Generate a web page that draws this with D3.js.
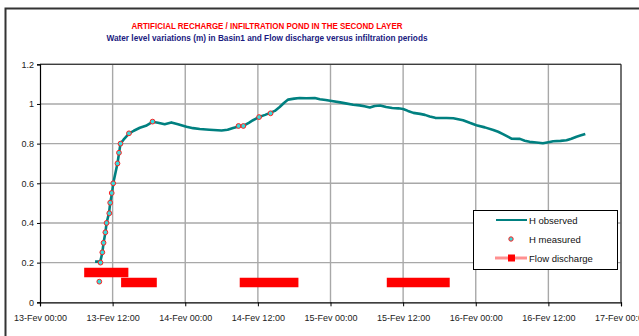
<!DOCTYPE html>
<html>
<head>
<meta charset="utf-8">
<script src="https://cdn.jsdelivr.net/npm/d3@7"></script>
<style>
  body { margin: 0; background: #fff; }
  text { font-family: "Liberation Sans", Arial, sans-serif; }
</style>
</head>
<body>
<div id="chart"></div>
<script>
// hours after 13-Fev 00:00
var obsHours = [9.1,9.8,10.0,10.3,10.5,10.8,11.0,11.4,11.6,11.9,12.1,12.8,13.05,13.3,13.8,14.7,15.5,16.5,17.5,18.6,
  19.5,20.6,21.7,22.8,24.2,25.3,26.4,28.0,30.0,31.0,31.9,33.0,33.6,34.5,35.2,36.3,37.2,38.0,38.8,39.6,
  40.3,41.0,42.0,42.9,44.0,45.4,46.25,47.2,48.2,49.6,50.5,51.75,52.8,53.6,54.5,55.3,56.2,57.2,58.2,59.2,
  60.0,60.8,61.7,62.8,63.6,64.4,65.3,66.1,67.2,68.3,69.9,71.0,72.1,73.5,74.9,75.7,76.5,77.3,77.9,79.3,
  80.1,80.9,82.0,83.1,84.0,84.8,86.0,87.0,87.8,88.65,89.4,90.1];
var obsLevel = [0.205,0.205,0.21,0.25,0.30,0.35,0.40,0.45,0.50,0.55,0.60,0.70,0.75,0.80,0.82,0.85,0.865,0.88,0.89,0.91,
  0.905,0.898,0.907,0.898,0.885,0.878,0.874,0.870,0.866,0.870,0.879,0.888,0.890,0.905,0.918,0.936,0.945,0.955,0.965,0.985,
  1.005,1.022,1.027,1.030,1.029,1.030,1.024,1.020,1.015,1.008,1.003,0.996,0.993,0.988,0.982,0.990,0.992,0.985,0.980,0.978,
  0.975,0.965,0.955,0.950,0.945,0.937,0.930,0.929,0.929,0.928,0.918,0.905,0.893,0.882,0.869,0.860,0.848,0.835,0.825,0.824,
  0.815,0.809,0.806,0.802,0.807,0.812,0.814,0.817,0.825,0.835,0.842,0.849];

var measHours = [9.8,10.0,10.3,10.5,10.8,11.0,11.45,11.6,11.85,12.1,12.8,13.05,13.3,14.7,18.6,32.8,33.6,36.2,38.1];
var measLevel = [0.104,0.20,0.252,0.30,0.353,0.40,0.449,0.502,0.551,0.60,0.70,0.754,0.80,0.852,0.911,0.889,0.889,0.934,0.953];

var flowStart = [7.3, 13.4, 33.0, 57.3];
var flowEnd = [14.6, 19.3, 42.7, 67.7];
var flowValue = [0.15, 0.1, 0.1, 0.1];

var yTicks = [0, 0.2, 0.4, 0.6, 0.8, 1, 1.2];
var xTickHours = [0, 12, 24, 36, 48, 60, 72, 84, 96];
var xTickLabels = ["13-Fev 00:00","13-Fev 12:00","14-Fev 00:00","14-Fev 12:00","15-Fev 00:00",
  "15-Fev 12:00","16-Fev 00:00","16-Fev 12:00","17-Fev 00:00"];

var seriesNames = ["H observed", "H measured", "Flow discharge"];

var W = 639, H = 336;
var pLeft = 40, pRight = 621, pTop = 64.3, pBottom = 302.3;

var svg = d3.select("#chart").append("svg")
    .attr("width", W)
    .attr("height", H);

// outer chart frame
svg.append("rect")
    .attr("x", 5.5).attr("y", 8.5)
    .attr("width", 700).attr("height", 400)
    .attr("fill", "none")
    .attr("stroke", "#333")
    .attr("stroke-width", 2);

svg.append("text")
    .attr("x", 267).attr("y", 29)
    .attr("text-anchor", "middle")
    .attr("fill", "#ff0000")
    .style("font-weight", "bold")
    .style("font-size", "9.5px")
    .attr("textLength", 271).attr("lengthAdjust", "spacingAndGlyphs")
    .text("ARTIFICIAL RECHARGE / INFILTRATION POND IN THE SECOND LAYER");

svg.append("text")
    .attr("x", 267).attr("y", 41)
    .attr("text-anchor", "middle")
    .attr("fill", "#1a1a80")
    .style("font-weight", "bold")
    .style("font-size", "9.5px")
    .attr("textLength", 321).attr("lengthAdjust", "spacingAndGlyphs")
    .text("Water level variations (m) in Basin1 and Flow discharge versus infiltration periods");

var x = d3.scaleLinear().domain([0, 96]).range([pLeft, pRight]);
var y = d3.scaleLinear().domain([0, 1.2]).range([pBottom, pTop]);

// grid
var g = svg.append("g");
g.selectAll(".hgrid").data(yTicks.slice(1)).enter()
    .append("line")
    .attr("x1", pLeft).attr("x2", pRight)
    .attr("y1", function(d) { return y(d); })
    .attr("y2", function(d) { return y(d); })
    .attr("stroke", "#a8a8a8")
    .attr("stroke-width", 1.4);
g.selectAll(".vgrid").data(xTickHours.slice(1)).enter()
    .append("line")
    .attr("y1", pTop).attr("y2", pBottom)
    .attr("x1", function(d) { return x(d); })
    .attr("x2", function(d) { return x(d); })
    .attr("stroke", "#a8a8a8")
    .attr("stroke-width", 1.4);

// plot border top/right
svg.append("path")
    .attr("d", "M" + pLeft + "," + pTop + "H" + pRight + "V" + pBottom)
    .attr("fill", "none")
    .attr("stroke", "#222")
    .attr("stroke-width", 1);

// axes
var yAxis = d3.axisLeft(y).tickValues(yTicks).tickSize(3).tickPadding(3)
    .tickFormat(function(d) { return d3.format("")(d); });
svg.append("g")
    .attr("transform", "translate(" + pLeft + ",0)")
    .call(yAxis)
    .call(function(a) {
        a.select(".domain").attr("stroke", "#000").attr("stroke-width", 1.2);
        a.selectAll("text").style("font-size", "9px").attr("fill", "#222")
            .attr("font-family", null);
    });

var xAxis = d3.axisBottom(x).tickValues(xTickHours).tickSize(4).tickPadding(8)
    .tickFormat(function(d, i) { return xTickLabels[i]; });
svg.append("g")
    .attr("transform", "translate(0," + pBottom + ")")
    .call(xAxis)
    .call(function(a) {
        a.select(".domain").attr("stroke", "#000").attr("stroke-width", 1.2);
        a.selectAll("text").style("font-size", "9px").attr("fill", "#222")
            .attr("font-family", null);
    });

// flow discharge bars
var flowData = flowStart.map(function(s, i) { return {s: s, e: flowEnd[i], v: flowValue[i]}; });
svg.selectAll(".flow").data(flowData).enter()
    .append("line")
    .attr("x1", function(d) { return x(d.s); })
    .attr("x2", function(d) { return x(d.e); })
    .attr("y1", function(d) { return y(d.v); })
    .attr("y2", function(d) { return y(d.v); })
    .attr("stroke", "#ff0000")
    .attr("stroke-width", 9.5);

// observed line
var obs = obsHours.map(function(h, i) { return [h, obsLevel[i]]; });
var line = d3.line()
    .x(function(d) { return x(d[0]); })
    .y(function(d) { return y(d[1]); });
svg.append("path")
    .datum(obs)
    .attr("d", line)
    .attr("fill", "none")
    .attr("stroke", "#008080")
    .attr("stroke-width", 2.6)
    .attr("stroke-linejoin", "round");

// measured points
var meas = measHours.map(function(h, i) { return [h, measLevel[i]]; });
svg.selectAll(".meas").data(meas).enter()
    .append("circle")
    .attr("cx", function(d) { return x(d[0]); })
    .attr("cy", function(d) { return y(d[1]); })
    .attr("r", 2.4)
    .attr("fill", "#33dddd")
    .attr("stroke", "#ff2020")
    .attr("stroke-width", 1);

// legend
var lg = svg.append("g");
lg.append("rect")
    .attr("x", 473.5).attr("y", 210.5)
    .attr("width", 144).attr("height", 59)
    .attr("fill", "#fff")
    .attr("stroke", "#000")
    .attr("stroke-width", 1);
var rows = [220, 239, 258];
lg.append("line").attr("x1", 496).attr("x2", 527).attr("y1", rows[0]).attr("y2", rows[0])
    .attr("stroke", "#008080").attr("stroke-width", 2);
lg.append("circle").attr("cx", 511).attr("cy", rows[1]).attr("r", 2.2)
    .attr("fill", "#33dddd").attr("stroke", "#ff2020").attr("stroke-width", 1);
lg.append("line").attr("x1", 495).attr("x2", 527).attr("y1", rows[2]).attr("y2", rows[2])
    .attr("stroke", "#ff9090").attr("stroke-width", 3);
lg.append("rect").attr("x", 508).attr("y", rows[2] - 3.5).attr("width", 7).attr("height", 7)
    .attr("fill", "#ff0000");
lg.selectAll(".ltxt").data(seriesNames).enter()
    .append("text")
    .attr("x", 529)
    .attr("y", function(d, i) { return rows[i] + 3.5; })
    .style("font-size", "9.5px")
    .attr("fill", "#111")
    .text(function(d) { return d; });
</script>
</body>
</html>
